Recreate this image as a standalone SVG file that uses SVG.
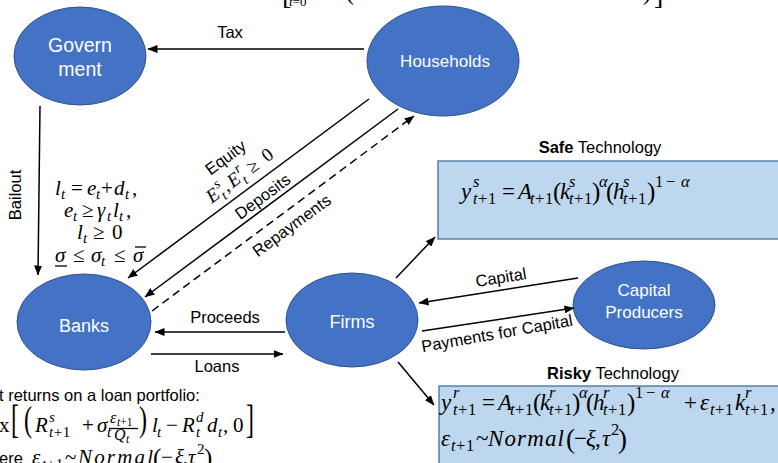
<svg xmlns="http://www.w3.org/2000/svg" width="778" height="463" viewBox="0 0 778 463">
  <style>
    .node { fill: #4472C4; stroke: #2F528F; stroke-width: 1; }
    .ntext { font-family: "Liberation Sans", Arial, sans-serif; fill: #FFFFFF; text-anchor: middle; }
    .lbl { font-family: "Liberation Sans", Arial, sans-serif; font-size: 16.5px; fill: #000000; }
    .mid { text-anchor: middle; }
    .box { fill: #BDD7EE; stroke: #41719C; stroke-width: 1.3; }
    .edge { stroke: #000000; stroke-width: 1.5; fill: none; }
    .dash { stroke-dasharray: 8 5; }
    .m { font-family: "Liberation Serif", "Times New Roman", serif; font-style: italic; fill: #000000; }
    .u { font-style: normal; }
    .s { font-size: 16.5px; }
    .rule { stroke: #000000; stroke-width: 1.3; }
  </style>
  <defs>
    <marker id="arrow" markerUnits="userSpaceOnUse" markerWidth="10" markerHeight="8" refX="9.5" refY="4" orient="auto">
      <path d="M0,0 L10,4 L0,8 z" fill="#000000"/>
    </marker>
  </defs>

  <rect width="778" height="463" fill="#FFFFFF"/>

  <!-- lower edge of the objective written above the chart -->
  <g id="objective-fragment">
    <text class="m u" x="282" y="4" font-size="28">[</text>
    <text class="m" x="289" y="6" font-size="13">t<tspan class="u">=0</tspan></text>
    <text class="m u" x="346" y="0" font-size="24">(</text>
    <text class="m u" x="643" y="0" font-size="24">)</text>
    <text class="m u" x="654" y="4" font-size="28">]</text>
  </g>

  <!-- technology boxes -->
  <g id="safe-technology">
    <text class="lbl mid" x="600" y="153"><tspan font-weight="bold">Safe</tspan> Technology</text>
    <rect class="box" x="438" y="161" width="350" height="78"/>
    <text class="m" font-size="23">
      <tspan x="461" y="199">y</tspan>
      <tspan class="s" x="473" y="187">s</tspan>
      <tspan class="s" x="473" y="204">t<tspan class="u" dx="0.5">+</tspan><tspan class="u" dx="0.5">1</tspan></tspan>
      <tspan class="u" x="502" y="199">=</tspan>
      <tspan x="518" y="199">A</tspan>
      <tspan class="s" x="530" y="204">t<tspan class="u" dx="0.5">+</tspan><tspan class="u" dx="0.5">1</tspan></tspan>
      <tspan class="u" x="553" y="200" font-size="25">(</tspan>
      <tspan x="560" y="199">k</tspan>
      <tspan class="s" x="569" y="187">s</tspan>
      <tspan class="s" x="569" y="204">t<tspan class="u" dx="0.5">+</tspan><tspan class="u" dx="0.5">1</tspan></tspan>
      <tspan class="u" x="592" y="200" font-size="25">)</tspan>
      <tspan class="s" x="599" y="187">α</tspan>
      <tspan class="u" x="606" y="200" font-size="25">(</tspan>
      <tspan x="613" y="199">h</tspan>
      <tspan class="s" x="623" y="187">s</tspan>
      <tspan class="s" x="623" y="204">t<tspan class="u" dx="0.5">+</tspan><tspan class="u" dx="0.5">1</tspan></tspan>
      <tspan class="u" x="647" y="200" font-size="25">)</tspan>
      <tspan class="s u" x="655" y="187">1</tspan>
      <tspan class="s u" x="666" y="187">−</tspan>
      <tspan class="s" x="681" y="187">α</tspan>
    </text>
  </g>

  <g id="risky-technology">
    <text class="lbl mid" x="613" y="379"><tspan font-weight="bold">Risky</tspan> Technology</text>
    <rect class="box" x="439" y="386" width="350" height="90"/>
    <text class="m" font-size="23">
      <tspan x="441" y="410">y</tspan>
      <tspan class="s" x="453" y="398">r</tspan>
      <tspan class="s" x="453" y="415">t<tspan class="u" dx="0.5">+</tspan><tspan class="u" dx="0.5">1</tspan></tspan>
      <tspan class="u" x="482" y="410">=</tspan>
      <tspan x="498" y="410">A</tspan>
      <tspan class="s" x="510" y="415">t<tspan class="u" dx="0.5">+</tspan><tspan class="u" dx="0.5">1</tspan></tspan>
      <tspan class="u" x="533" y="411" font-size="25">(</tspan>
      <tspan x="540" y="410">k</tspan>
      <tspan class="s" x="549" y="398">r</tspan>
      <tspan class="s" x="549" y="415">t<tspan class="u" dx="0.5">+</tspan><tspan class="u" dx="0.5">1</tspan></tspan>
      <tspan class="u" x="572" y="411" font-size="25">)</tspan>
      <tspan class="s" x="579" y="398">α</tspan>
      <tspan class="u" x="586" y="411" font-size="25">(</tspan>
      <tspan x="593" y="410">h</tspan>
      <tspan class="s" x="603" y="398">r</tspan>
      <tspan class="s" x="603" y="415">t<tspan class="u" dx="0.5">+</tspan><tspan class="u" dx="0.5">1</tspan></tspan>
      <tspan class="u" x="627" y="411" font-size="25">)</tspan>
      <tspan class="s u" x="635" y="398">1</tspan>
      <tspan class="s u" x="646" y="398">−</tspan>
      <tspan class="s" x="661" y="398">α</tspan>
      <tspan class="u" x="684" y="410">+</tspan>
      <tspan x="700" y="410">ε</tspan>
      <tspan class="s" x="710" y="415">t<tspan class="u" dx="0.5">+</tspan><tspan class="u" dx="0.5">1</tspan></tspan>
      <tspan x="735" y="410">k</tspan>
      <tspan class="s" x="745" y="398">r</tspan>
      <tspan class="s" x="745" y="415">t<tspan class="u" dx="0.5">+</tspan><tspan class="u" dx="0.5">1</tspan></tspan>
      <tspan class="u" x="770" y="410">,</tspan>
    </text>
    <text class="m" font-size="23">
      <tspan x="441" y="446">ε</tspan>
      <tspan class="s" x="451" y="451">t<tspan class="u" dx="0.5">+</tspan><tspan class="u" dx="0.5">1</tspan></tspan>
      <tspan class="u" x="476" y="446">~</tspan>
      <tspan x="488" y="446" textLength="76" lengthAdjust="spacing">Normal</tspan>
      <tspan class="u" x="566" y="448" font-size="27">(</tspan>
      <tspan class="u" x="574" y="446">−</tspan>
      <tspan x="586" y="446">ξ</tspan>
      <tspan class="u" x="595" y="446">,</tspan>
      <tspan x="602" y="446">τ</tspan>
      <tspan class="s u" x="611" y="435">2</tspan>
      <tspan class="u" x="618" y="448" font-size="27">)</tspan>
    </text>
  </g>

  <!-- agents -->
  <g id="government">
    <ellipse class="node" cx="80" cy="56" rx="66" ry="49"/>
    <text class="ntext" x="80" y="52" font-size="19.5">Govern</text>
    <text class="ntext" x="80" y="76" font-size="19.5">ment</text>
  </g>
  <g id="households">
    <ellipse class="node" cx="443" cy="61" rx="76" ry="55"/>
    <text class="ntext" x="445" y="67" font-size="17">Households</text>
  </g>
  <g id="banks">
    <ellipse class="node" cx="84" cy="322" rx="67" ry="48"/>
    <text class="ntext" x="84" y="332" font-size="18">Banks</text>
  </g>
  <g id="firms">
    <ellipse class="node" cx="352" cy="320" rx="66" ry="47"/>
    <text class="ntext" x="352" y="328" font-size="18">Firms</text>
  </g>
  <g id="capital-producers">
    <ellipse class="node" cx="644" cy="305" rx="71" ry="44"/>
    <text class="ntext" x="644" y="296" font-size="17">Capital</text>
    <text class="ntext" x="644" y="318" font-size="17">Producers</text>
  </g>

  <!-- bank balance-sheet constraints -->
  <g id="bank-constraints">
    <text class="m" font-size="21">
      <tspan x="55" y="195">l</tspan>
      <tspan x="61" y="199" font-size="15">t</tspan>
      <tspan class="u" x="71" y="195">=</tspan>
      <tspan x="87" y="195">e</tspan>
      <tspan x="96" y="199" font-size="15">t</tspan>
      <tspan class="u" x="101" y="195">+</tspan>
      <tspan x="114" y="195">d</tspan>
      <tspan x="125" y="199" font-size="15">t</tspan>
      <tspan class="u" x="132" y="195">,</tspan>
    </text>
    <text class="m" font-size="21">
      <tspan x="64" y="217">e</tspan>
      <tspan x="73" y="221" font-size="15">t</tspan>
      <tspan class="u" x="82" y="217">≥</tspan>
      <tspan x="97" y="217">γ</tspan>
      <tspan x="107" y="221" font-size="15">t</tspan>
      <tspan x="113" y="217">l</tspan>
      <tspan x="119" y="221" font-size="15">t</tspan>
      <tspan class="u" x="126" y="217">,</tspan>
    </text>
    <text class="m" font-size="21">
      <tspan x="77" y="239">l</tspan>
      <tspan x="83" y="243" font-size="15">t</tspan>
      <tspan class="u" x="93" y="239">≥</tspan>
      <tspan class="u" x="112" y="239">0</tspan>
    </text>
    <text class="m" font-size="21">
      <tspan x="55" y="262">σ</tspan>
      <tspan class="u" x="73" y="262">≤</tspan>
      <tspan x="91" y="262">σ</tspan>
      <tspan x="101" y="266" font-size="15">t</tspan>
      <tspan class="u" x="114" y="262">≤</tspan>
      <tspan x="133" y="262">σ</tspan>
    </text>
    <line class="rule" x1="55" y1="266" x2="67" y2="266"/>
    <line class="rule" x1="135" y1="247" x2="146" y2="247"/>
  </g>

  <!-- bank payoff on a loan portfolio -->
  <g id="loan-payoff">
    <text class="lbl" x="-1" y="401" font-size="17.5">t returns on a loan portfolio:</text>
    <text class="m u" x="-1" y="432" font-size="21">x</text>
    <text class="m u" transform="translate(11,433) scale(1,1.7)" font-size="24">[</text>
    <text class="m u" transform="translate(24,431) scale(1,1.5)" font-size="24">(</text>
    <text class="m" font-size="21">
      <tspan x="35" y="432">R</tspan>
      <tspan x="49" y="422" font-size="15">s</tspan>
      <tspan x="49" y="437" font-size="15">t<tspan class="u" dx="0.5">+</tspan><tspan class="u" dx="0.5">1</tspan></tspan>
      <tspan class="u" x="82" y="432">+</tspan>
      <tspan x="97" y="432">σ</tspan>
      <tspan x="107" y="437" font-size="15">t</tspan>
    </text>
    <text class="m" font-size="16">
      <tspan x="110" y="423">ε</tspan>
      <tspan x="117" y="426" font-size="11.5">t<tspan class="u">+1</tspan></tspan>
      <tspan x="114" y="440">Q</tspan>
      <tspan x="126" y="443" font-size="11.5">t</tspan>
    </text>
    <line class="rule" x1="109" y1="428.5" x2="138" y2="428.5" stroke-width="1"/>
    <text class="m u" transform="translate(139,431) scale(1,1.5)" font-size="24">)</text>
    <text class="m" font-size="21">
      <tspan x="152" y="432">l</tspan>
      <tspan x="157" y="437" font-size="15">t</tspan>
      <tspan class="u" x="166" y="432">−</tspan>
      <tspan x="182" y="432">R</tspan>
      <tspan x="196" y="422" font-size="15">d</tspan>
      <tspan x="196" y="437" font-size="15">t</tspan>
      <tspan x="207" y="432">d</tspan>
      <tspan x="218" y="437" font-size="15">t</tspan>
      <tspan class="u" x="223" y="432">,</tspan>
      <tspan class="u" x="233" y="432">0</tspan>
    </text>
    <text class="m u" transform="translate(246,433) scale(1,1.7)" font-size="24">]</text>
    <text class="lbl" x="-1" y="464" font-size="17.5">ere</text>
    <text class="m" font-size="21">
      <tspan x="32" y="464">ε</tspan>
      <tspan x="42" y="469" font-size="15">t<tspan class="u" dx="0.5">+</tspan><tspan class="u" dx="0.5">1</tspan></tspan>
      <tspan class="u" x="65" y="464">~</tspan>
      <tspan x="78" y="464" textLength="75" lengthAdjust="spacing">Normal</tspan>
      <tspan class="u" x="153" y="466" font-size="25">(</tspan>
      <tspan class="u" x="161" y="464">−</tspan>
      <tspan x="175" y="464">ξ</tspan>
      <tspan class="u" x="183" y="464">,</tspan>
      <tspan x="188" y="464">τ</tspan>
      <tspan class="u" x="197" y="454" font-size="15">2</tspan>
      <tspan class="u" x="204" y="466" font-size="25">)</tspan>
    </text>
  </g>

  <!-- flows between agents -->
  <g id="connectors">
    <line class="edge" x1="364" y1="49" x2="148" y2="49" marker-end="url(#arrow)"/>
    <line class="edge" x1="40" y1="106" x2="38" y2="275" marker-end="url(#arrow)"/>
    <line class="edge" x1="369" y1="99" x2="128" y2="278" marker-end="url(#arrow)"/>
    <line class="edge" x1="398" y1="109" x2="145" y2="297" marker-end="url(#arrow)"/>
    <line class="edge dash" x1="152" y1="311" x2="414" y2="116" marker-end="url(#arrow)"/>
    <line class="edge" x1="285" y1="332" x2="155" y2="332" marker-end="url(#arrow)"/>
    <line class="edge" x1="151" y1="354" x2="283" y2="354" marker-end="url(#arrow)"/>
    <line class="edge" x1="396" y1="278" x2="435" y2="237" marker-end="url(#arrow)"/>
    <line class="edge" x1="398" y1="362" x2="434" y2="405" marker-end="url(#arrow)"/>
    <line class="edge" x1="578" y1="278" x2="419" y2="303" marker-end="url(#arrow)"/>
    <line class="edge" x1="422" y1="331" x2="574" y2="308" marker-end="url(#arrow)"/>

    <text class="lbl mid" x="230" y="38">Tax</text>
    <text class="lbl mid" transform="translate(21,195) rotate(-90)" x="0" y="0">Bailout</text>
    <text class="lbl mid" x="225" y="323">Proceeds</text>
    <text class="lbl mid" x="217" y="372">Loans</text>
    <text class="lbl mid" transform="translate(226,158) rotate(-36.6)" x="0" y="5">Equity</text>
    <text class="m" font-size="19" transform="translate(241,176) rotate(-36.6)">
      <tspan x="-40" y="5">E</tspan>
      <tspan x="-27" y="-4" font-size="14">s</tspan>
      <tspan x="-27" y="10" font-size="14">t</tspan>
      <tspan class="u" x="-21" y="5">,</tspan>
      <tspan x="-14" y="5">E</tspan>
      <tspan x="-1" y="-4" font-size="14">r</tspan>
      <tspan x="-1" y="10" font-size="14">t</tspan>
      <tspan class="u" x="10" y="5">≥</tspan>
      <tspan class="u" x="29" y="5">0</tspan>
    </text>
    <text class="lbl mid" transform="translate(263,197) rotate(-36.6)" x="0" y="5">Deposits</text>
    <text class="lbl mid" transform="translate(292,226) rotate(-36.3)" x="0" y="5">Repayments</text>
    <text class="lbl mid" transform="translate(501,278) rotate(-9)" x="0" y="5">Capital</text>
    <text class="lbl mid" transform="translate(497,334) rotate(-10)" x="0" y="5">Payments for Capital</text>
  </g>
</svg>
